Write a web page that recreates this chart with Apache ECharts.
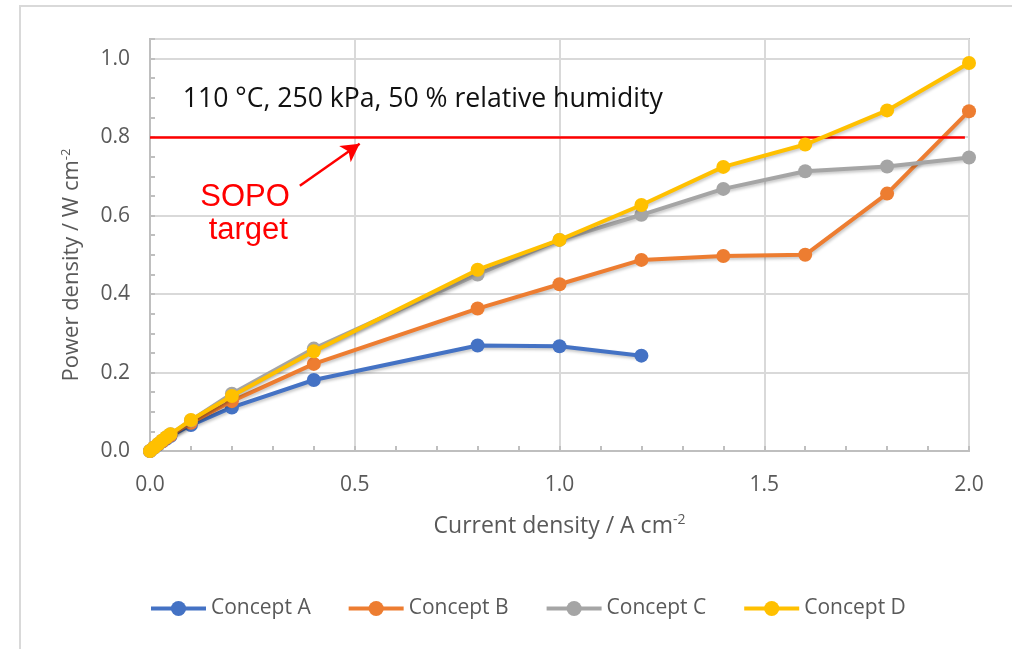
<!DOCTYPE html>
<html>
<head>
<meta charset="utf-8">
<script src="https://cdn.jsdelivr.net/npm/echarts@6/dist/echarts.min.js"></script>
<style>
  html, body { margin: 0; padding: 0; background: #ffffff; }
  #chart { width: 1012px; height: 649px; }
</style>
</head>
<body>
<div id="chart"></div>
<script>
// Current density (A cm-2) at each measured operating point
const currentDensity = [0, 0.01, 0.02, 0.03, 0.04, 0.05, 0.1, 0.2, 0.4, 0.8, 1.0, 1.2, 1.4, 1.6, 1.8, 2.0];

// Power density (W cm-2) per membrane concept
const conceptA = [0, 0.008, 0.016, 0.024, 0.031, 0.038, 0.066, 0.111, 0.181, 0.269, 0.267, 0.243];
const conceptB = [0, 0.009, 0.017, 0.025, 0.033, 0.040, 0.072, 0.127, 0.222, 0.363, 0.425, 0.487, 0.497, 0.500, 0.656, 0.866];
const conceptC = [0, 0.009, 0.018, 0.027, 0.035, 0.043, 0.078, 0.146, 0.261, 0.450, 0.538, 0.602, 0.668, 0.713, 0.725, 0.748];
const conceptD = [0, 0.009, 0.018, 0.027, 0.035, 0.043, 0.079, 0.140, 0.254, 0.462, 0.538, 0.627, 0.724, 0.781, 0.868, 0.989];

const seriesNames = ['Concept A', 'Concept B', 'Concept C', 'Concept D'];
const seriesValues = [conceptA, conceptB, conceptC, conceptD];
const seriesColors = ['#4472C4', '#ED7D31', '#A5A5A5', '#FFC000'];

// SOPO power density target
const targetPower = 0.8;

const xTicks = ['0.0', '0.5', '1.0', '1.5', '2.0'];
const yTicks = ['0.0', '0.2', '0.4', '0.6', '0.8', '1.0'];

const conditionsText = '110 °C, 250 kPa, 50 % relative humidity';

const axisGray = '#595959';
const uiFont = '"Open Sans", "DejaVu Sans", sans-serif';

function pairs(xs, ys) {
  return ys.map((y, i) => [xs[i], y]);
}

const chart = echarts.init(document.getElementById('chart'), null, { renderer: 'canvas' });

const series = seriesNames.map((name, i) => ({
  name: name,
  type: 'line',
  xAxisIndex: 0,
  yAxisIndex: 0,
  data: pairs(currentDensity, seriesValues[i]),
  symbol: 'circle',
  symbolSize: 14,
  showSymbol: true,
  color: seriesColors[i],
  lineStyle: {
    width: 4,
    color: seriesColors[i],
    shadowColor: 'rgba(0,0,0,0.22)',
    shadowBlur: 3,
    shadowOffsetX: 1,
    shadowOffsetY: 2
  },
  itemStyle: { color: seriesColors[i] },
  emphasis: { disabled: true },
  animation: false,
  z: 3 + i
}));

// Target line and pointer arrow
series[0].markLine = {
  silent: true,
  animation: false,
  symbol: ['none', 'none'],
  label: { show: false },
  lineStyle: { color: '#FF0000', width: 2.5, type: 'solid' },
  data: [
    [{ coord: [0, targetPower] }, { coord: [1.99, targetPower] }],
    [
      { coord: [0.366, 0.676], symbol: 'none' },
      { coord: [0.512, 0.783], symbol: 'arrow', symbolSize: [15, 18] }
    ]
  ]
};

const option = {
  backgroundColor: '#ffffff',
  animation: false,
  textStyle: { fontFamily: uiFont },
  grid: {
    left: 150, right: 43, top: 39, bottom: 198,
    show: true,
    borderColor: '#c4c4c4',
    borderWidth: 2,
    backgroundColor: 'transparent'
  },
  legend: {
    data: seriesNames,
    left: 144,
    top: 593,
    itemWidth: 55,
    itemHeight: 19,
    itemGap: 36,
    lineStyle: { width: 4 },
    textStyle: { color: axisGray, fontSize: 21, fontFamily: uiFont },
    selectedMode: false
  },
  xAxis: {
    type: 'value',
    min: 0,
    max: 2,
    interval: 0.5,
    name: 'Current density / A cm{sup|-2}',
    nameLocation: 'middle',
    nameGap: 62,
    nameTextStyle: {
      color: axisGray, fontSize: 23, fontFamily: uiFont,
      rich: { sup: { fontSize: 14, verticalAlign: 'top', color: axisGray, padding: [0, 0, 12, 0] } }
    },
    axisLine: { show: true, lineStyle: { color: '#bfbfbf', width: 2 } },
    axisTick: { show: true, inside: true, length: 5, lineStyle: { color: '#bfbfbf', width: 2 } },
    minorTick: { show: true, splitNumber: 5, length: 5, lineStyle: { color: '#bfbfbf', width: 2 } },
    splitLine: { show: true, lineStyle: { color: '#d9d9d9', width: 2 } },
    axisLabel: {
      color: axisGray, fontSize: 21, fontFamily: uiFont, margin: 24,
      formatter: (v) => xTicks[Math.round(v / 0.5)] || ''
    }
  },
  yAxis: [
    {
      type: 'value',
      min: 0,
      max: 1.05,
      interval: 0.2,
      name: 'Power density / W cm{sup|-2}',
      nameLocation: 'middle',
      nameGap: 66,
      nameTextStyle: {
        color: axisGray, fontSize: 22, fontFamily: uiFont,
        padding: [0, 40, 0, 0],
        rich: { sup: { fontSize: 13, verticalAlign: 'top', color: axisGray, padding: [0, 0, 11, 0] } }
      },
      axisLine: { show: true, lineStyle: { color: '#bfbfbf', width: 2 } },
      axisTick: { show: false },
      splitLine: { show: true, lineStyle: { color: '#d9d9d9', width: 2 } },
      axisLabel: {
        color: axisGray, fontSize: 21, fontFamily: uiFont, margin: 20,
        formatter: (v) => {
          const k = v / 0.2;
          return Math.abs(k - Math.round(k)) < 1e-6 ? (yTicks[Math.round(k)] || '') : '';
        }
      }
    },
    {
      // fine tick marks every 0.05
      type: 'value',
      position: 'left',
      min: 0,
      max: 1.05,
      interval: 0.05,
      axisLine: { show: false },
      axisTick: { show: true, inside: true, length: 5, lineStyle: { color: '#bfbfbf', width: 2 } },
      axisLabel: { show: false },
      splitLine: { show: false }
    }
  ],
  series: series
};

chart.setOption(option);

// Text annotations placed in data coordinates
const p = (x, y) => chart.convertToPixel({ xAxisIndex: 0, yAxisIndex: 0 }, [x, y]);
const condPos = p(0.08, 0.895);
const sopoPos = p(0.232, 0.645);
const targetPos = p(0.240, 0.561);

chart.setOption({
  graphic: [
    {
      type: 'rect',
      silent: true,
      shape: { x: 20, y: 6, width: 1100, height: 700 },
      style: { fill: 'none', stroke: '#d9d9d9', lineWidth: 2 },
      z: -10
    },
    {
      type: 'text',
      silent: true,
      x: condPos[0], y: condPos[1],
      style: {
        text: conditionsText,
        fill: '#111111',
        font: '26.6px ' + uiFont,
        textAlign: 'left',
        textVerticalAlign: 'middle'
      },
      z: 20
    },
    {
      type: 'text',
      silent: true,
      x: sopoPos[0], y: sopoPos[1],
      style: {
        text: 'SOPO',
        fill: '#FF0000',
        font: '31px "Liberation Sans", Arial, sans-serif',
        textAlign: 'center',
        textVerticalAlign: 'middle'
      },
      z: 20
    },
    {
      type: 'text',
      silent: true,
      x: targetPos[0], y: targetPos[1],
      style: {
        text: 'target',
        fill: '#FF0000',
        font: '31px "Liberation Sans", Arial, sans-serif',
        textAlign: 'center',
        textVerticalAlign: 'middle'
      },
      z: 20
    }
  ]
});
</script>
</body>
</html>
